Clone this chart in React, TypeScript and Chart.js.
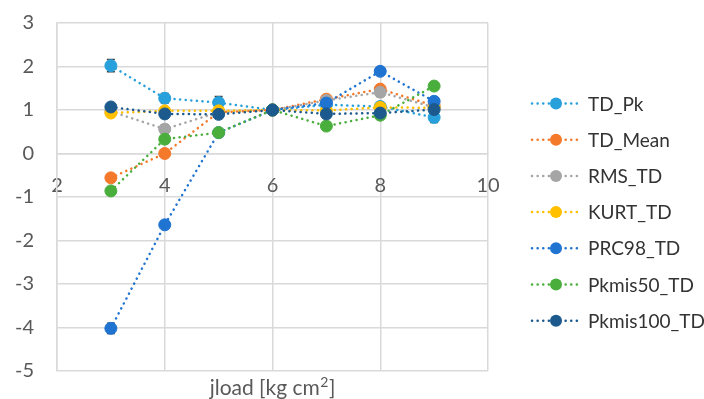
import React, { useEffect, useRef } from 'react';
import { Chart, registerables } from 'chart.js';

Chart.register(...registerables);

const xValues = [3, 4, 5, 6, 7, 8, 9];
const xTicks = [2, 4, 6, 8, 10];
const yTicks = [-5, -4, -3, -2, -1, 0, 1, 2, 3];
const xTitleMain = 'jload [kg cm';
const xTitleSup = '2';
const xTitleEnd = ']';

const seriesNames = ['TD_Pk', 'TD_Mean', 'RMS_TD', 'KURT_TD', 'PRC98_TD', 'Pkmis50_TD', 'Pkmis100_TD'];
const seriesColors = ['#27A0DB', '#F4792B', '#A5A5A5', '#FFC000', '#1F73D1', '#4AAE3C', '#1C5A8E'];

const tdPk = [2.02, 1.27, 1.17, 1.0, 1.12, 1.08, 0.83];
const tdMean = [-0.56, 0.0, 0.95, 1.0, 1.25, 1.48, 1.1];
const rmsTd = [0.97, 0.56, 0.95, 1.0, 1.22, 1.41, 1.06];
const kurtTd = [0.93, 0.98, 0.98, 1.0, 0.99, 1.06, 1.05];
const prc98Td = [-4.02, -1.64, 0.48, 1.0, 1.16, 1.89, 1.2];
const pkmis50Td = [-0.86, 0.33, 0.48, 1.0, 0.63, 0.88, 1.55];
const pkmis100Td = [1.07, 0.91, 0.9, 1.0, 0.91, 0.93, 1.01];

const tdPkErr = [0.14, 0.11, 0.14, 0.05, 0.05, 0.05, 0.12];
const tdMeanErr = [0.04, 0.04, 0.04, 0.05, 0.04, 0.05, 0.04];
const rmsTdErr = [0.04, 0.1, 0.04, 0.06, 0.05, 0.1, 0.05];
const kurtTdErr = [0.03, 0.03, 0.03, 0.03, 0.03, 0.05, 0.03];
const prc98TdErr = [0.12, 0.05, 0.04, 0.04, 0.04, 0.04, 0.05];
const pkmis50TdErr = [0.06, 0.08, 0.04, 0.04, 0.04, 0.04, 0.04];
const pkmis100TdErr = [0.03, 0.03, 0.03, 0.03, 0.03, 0.03, 0.03];

const seriesValues = [tdPk, tdMean, rmsTd, kurtTd, prc98Td, pkmis50Td, pkmis100Td];
const seriesErrors = [tdPkErr, tdMeanErr, rmsTdErr, kurtTdErr, prc98TdErr, pkmis50TdErr, pkmis100TdErr];

const FONT = 'Lato, "Open Sans", sans-serif';
const GRID = '#D9D9D9';
const TICK_COLOR = '#595959';

const errorBarPlugin = {
  id: 'errorBars',
  beforeDatasetsDraw(chart: any) {
    const ctx = chart.ctx;
    const yScale = chart.scales.y;
    ctx.save();
    ctx.strokeStyle = '#404040';
    ctx.lineWidth = 1.5;
    chart.data.datasets.forEach((ds: any, i: number) => {
      const meta = chart.getDatasetMeta(i);
      const errs = seriesErrors[i];
      meta.data.forEach((pt: any, j: number) => {
        const v = ds.data[j].y;
        const e = errs[j];
        const top = yScale.getPixelForValue(v + e);
        const bot = yScale.getPixelForValue(v - e);
        const x = pt.x;
        ctx.beginPath();
        ctx.moveTo(x, top);
        ctx.lineTo(x, bot);
        ctx.moveTo(x - 4, top);
        ctx.lineTo(x + 4, top);
        ctx.moveTo(x - 4, bot);
        ctx.lineTo(x + 4, bot);
        ctx.stroke();
      });
    });
    ctx.restore();
  },
};

const sideLegendPlugin = {
  id: 'sideLegend',
  afterDraw(chart: any) {
    const ctx = chart.ctx;
    const x0 = 532;
    const lineW = 48;
    const textX = 588;
    const y0 = 103.5;
    const step = 36.2;
    ctx.save();
    chart.data.datasets.forEach((ds: any, i: number) => {
      const y = y0 + i * step;
      ctx.strokeStyle = ds.borderColor;
      ctx.lineWidth = 2.5;
      ctx.lineCap = 'round';
      ctx.setLineDash([0.1, 5.5]);
      ctx.beginPath();
      ctx.moveTo(x0, y);
      ctx.lineTo(x0 + lineW, y);
      ctx.stroke();
      ctx.setLineDash([]);
      ctx.fillStyle = ds.backgroundColor;
      ctx.beginPath();
      ctx.arc(x0 + lineW / 2, y, 6, 0, Math.PI * 2);
      ctx.fill();
      ctx.fillStyle = '#333333';
      ctx.font = `19px ${FONT}`;
      ctx.textBaseline = 'middle';
      ctx.textAlign = 'left';
      ctx.fillText(ds.label, textX, y + 1);
    });
    // x-axis title with a real superscript, centred under the plot area
    const area = chart.chartArea;
    const mainFont = `21px ${FONT}`;
    const supFont = `14px ${FONT}`;
    ctx.font = mainFont;
    const w1 = ctx.measureText(xTitleMain).width;
    const w3 = ctx.measureText(xTitleEnd).width;
    ctx.font = supFont;
    const w2 = ctx.measureText(xTitleSup).width + 1;
    const total = w1 + w2 + w3;
    let x = (area.left + area.right) / 2 - total / 2;
    const baseY = 395;
    ctx.fillStyle = TICK_COLOR;
    ctx.textAlign = 'left';
    ctx.textBaseline = 'alphabetic';
    ctx.font = mainFont;
    ctx.fillText(xTitleMain, x, baseY);
    x += w1;
    ctx.font = supFont;
    ctx.fillText(xTitleSup, x + 0.5, baseY - 8);
    x += w2;
    ctx.font = mainFont;
    ctx.fillText(xTitleEnd, x, baseY);
    ctx.restore();
  },
};

export default function App() {
  const ref = useRef<HTMLCanvasElement | null>(null);

  useEffect(() => {
    if (!ref.current) return;
    const datasets = seriesNames.map((name, i) => ({
      label: name,
      data: xValues.map((x, j) => ({ x, y: seriesValues[i][j] })),
      borderColor: seriesColors[i],
      backgroundColor: seriesColors[i],
      pointBackgroundColor: seriesColors[i],
      pointBorderColor: seriesColors[i],
      pointRadius: 6,
      pointBorderWidth: 1,
      borderWidth: 2.5,
      borderDash: [0.1, 5.5],
      borderCapStyle: 'round' as const,
      tension: 0,
      fill: false,
      order: seriesNames.length - 1 - i,
    }));

    const chart = new Chart(ref.current, {
      type: 'line',
      data: { datasets },
      options: {
        responsive: false,
        animation: false,
        layout: { padding: { top: 23, right: 216, left: 0, bottom: 28 } },
        scales: {
          x: {
            type: 'linear',
            position: { y: 0 } as any,
            min: xTicks[0],
            max: xTicks[xTicks.length - 1],
            afterBuildTicks: (scale: any) => {
              scale.ticks = xTicks.map((v) => ({ value: v }));
            },
            afterFit: (scale: any) => {
              scale.paddingTop = 0;
              scale.paddingBottom = 0;
            },
            ticks: { color: TICK_COLOR, font: { family: FONT, size: 20 }, padding: 20, autoSkip: false, maxRotation: 0 },
            grid: { color: GRID, lineWidth: 1.5, drawTicks: false },
            border: { color: GRID, width: 1.5 },
          },
          y: {
            type: 'linear',
            min: yTicks[0],
            max: yTicks[yTicks.length - 1],
            afterBuildTicks: (scale: any) => {
              scale.ticks = yTicks.map((v) => ({ value: v }));
            },
            afterFit: (scale: any) => {
              scale.width = 57;
              scale.paddingTop = 0;
              scale.paddingBottom = 0;
            },
            ticks: { color: TICK_COLOR, font: { family: FONT, size: 20 }, padding: 23 },
            grid: { color: GRID, lineWidth: 1.5, drawTicks: false },
            border: { color: GRID, width: 1.5 },
          },
        },
        plugins: {
          legend: { display: false },
          tooltip: { enabled: false },
          title: { display: false },
        },
      },
      plugins: [errorBarPlugin, sideLegendPlugin],
    });
    return () => chart.destroy();
  }, []);

  return (
    <div style={{ position: 'fixed', left: 0, top: 0, width: 704, height: 399, background: '#fff' }}>
      <canvas ref={ref} width={704} height={399} style={{ display: 'block' }} />
    </div>
  );
}
